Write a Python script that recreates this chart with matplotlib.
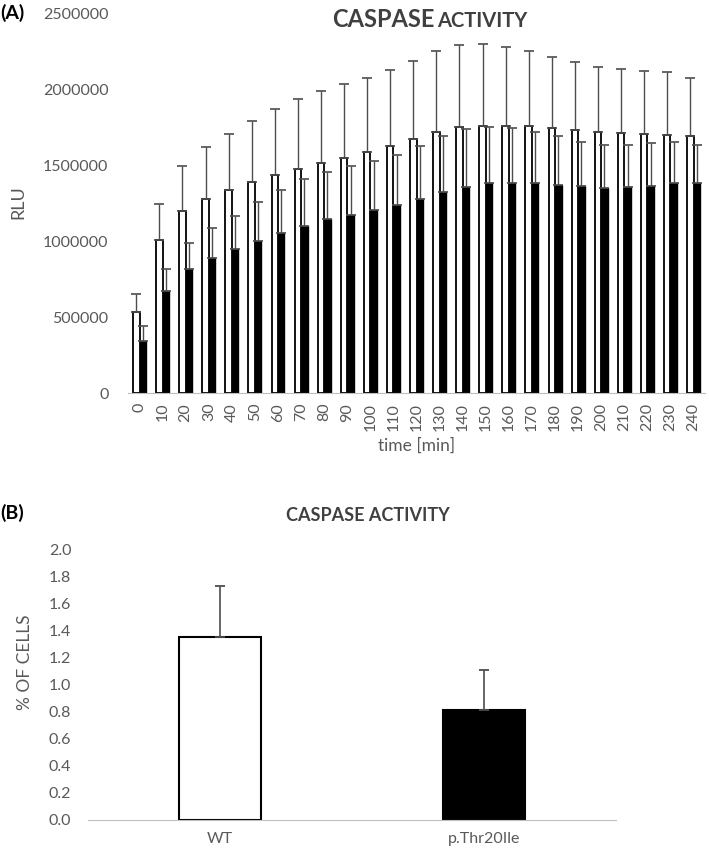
import numpy as np
import matplotlib
matplotlib.use("Agg")
import matplotlib.pyplot as plt
from matplotlib.ticker import FormatStrFormatter

plt.rcParams['font.family'] = ['Lato', 'DejaVu Sans']

# panel A: caspase activity over time (RLU)
times = list(range(0, 250, 10))
wt_mean = [533e3, 1007e3, 1197e3, 1278e3, 1338e3, 1388e3, 1436e3, 1474e3, 1511e3,
           1548e3, 1588e3, 1627e3, 1673e3, 1715e3, 1748e3, 1759e3, 1759e3, 1754e3,
           1746e3, 1732e3, 1719e3, 1711e3, 1702e3, 1697e3, 1689e3]
wt_sd = [118e3, 236e3, 298e3, 340e3, 368e3, 404e3, 435e3, 460e3, 478e3, 483e3,
         487e3, 498e3, 513e3, 535e3, 544e3, 539e3, 519e3, 496e3, 465e3, 446e3,
         428e3, 423e3, 418e3, 413e3, 383e3]
mut_mean = [344e3, 671e3, 816e3, 886e3, 945e3, 1000e3, 1055e3, 1101e3, 1143e3,
            1171e3, 1202e3, 1235e3, 1276e3, 1322e3, 1357e3, 1380e3, 1382e3, 1380e3,
            1371e3, 1360e3, 1351e3, 1353e3, 1364e3, 1380e3, 1382e3]
mut_sd = [97e3, 145e3, 171e3, 197e3, 222e3, 255e3, 281e3, 305e3, 311e3, 324e3,
          322e3, 333e3, 347e3, 367e3, 380e3, 372e3, 361e3, 339e3, 318e3, 293e3,
          281e3, 279e3, 281e3, 273e3, 252e3]

# panel B: % of cells
groups = ['WT', 'p.Thr20Ile']
pct_mean = [1.353, 0.81]
pct_sd = [0.375, 0.296]

txt = '#595959'
errc = '#4d4d4d'

fig = plt.figure(figsize=(7.09, 8.5), dpi=100)

# ---- (A)
ax1 = fig.add_axes([0.1805, 0.5376, 0.814, 0.4471])
x = np.arange(len(times))
w = 0.28
ax1.bar(x - w/2, wt_mean, w, color='white', edgecolor='black', linewidth=1.3)
ax1.bar(x + w/2, mut_mean, w, color='black', edgecolor='black', linewidth=1.0)
ax1.errorbar(x - w/2, wt_mean, yerr=[np.zeros(len(x)), wt_sd], fmt='none',
             ecolor=errc, elinewidth=1, capsize=3.5, capthick=1.2)
ax1.errorbar(x + w/2, mut_mean, yerr=[np.zeros(len(x)), mut_sd], fmt='none',
             ecolor=errc, elinewidth=1, capsize=3.5, capthick=1.2)
ax1.set_xlim(-0.5, len(x) - 0.5)
ax1.set_ylim(0, 2500000)
ax1.set_yticks(np.arange(0, 2500001, 500000))
ax1.yaxis.set_major_formatter(FormatStrFormatter('%d'))
ax1.set_xticks(x)
ax1.set_xticklabels([str(t) for t in times], rotation=90)
ax1.tick_params(length=0, labelsize=11.5, colors=txt)
ax1.tick_params(axis='y', pad=14)
ax1.tick_params(axis='x', pad=7)
for s in ['top', 'right', 'left']:
    ax1.spines[s].set_visible(False)
ax1.spines['bottom'].set_color('#bfbfbf')
ax1.set_xlabel('time [min]', fontsize=12.5, color=txt, labelpad=5)
fig.text(18/709, 1 - 202/850, 'RLU', rotation=90, fontsize=13, color=txt,
         ha='center', va='center')

fig.text(332/709, 1 - 27/850, 'CASPASE', fontsize=17, fontweight='bold',
         color='#404040', ha='left', va='baseline')
fig.text(527/709, 1 - 27/850, 'ACTIVITY', fontsize=14.5, fontweight='bold',
         color='#404040', ha='right', va='baseline')
fig.text(0.0, 1 - 13/850, '(A)', fontsize=14, fontweight='bold', color='black',
         ha='left', va='center')

# ---- (B)
ax2 = fig.add_axes([0.1241, 0.0353, 0.7447, 0.3188])
xb = np.arange(len(groups))
wb = 0.31
ax2.bar(xb, pct_mean, wb, color=['white', 'black'], edgecolor='black', linewidth=1.5)
ax2.errorbar(xb, pct_mean, yerr=[np.zeros(len(xb)), pct_sd], fmt='none',
             ecolor=errc, elinewidth=1.2, capsize=3.5, capthick=1.3)
ax2.set_xlim(-0.5, 1.5)
ax2.set_ylim(0, 2.0)
ax2.set_yticks(np.arange(0, 2.01, 0.2))
ax2.yaxis.set_major_formatter(FormatStrFormatter('%.1f'))
ax2.set_xticks(xb)
ax2.set_xticklabels(groups)
ax2.tick_params(length=0, labelsize=11.5, colors=txt)
ax2.tick_params(axis='y', pad=12)
ax2.tick_params(axis='x', pad=9)
for s in ['top', 'right', 'left']:
    ax2.spines[s].set_visible(False)
ax2.spines['bottom'].set_color('#bfbfbf')
fig.text(25/709, 1 - 662/850, '% OF CELLS', rotation=90, fontsize=12.5, color=txt,
         ha='center', va='center')
fig.text(368/709, 1 - 521/850, 'CASPASE ACTIVITY', fontsize=13, fontweight='bold',
         color='#404040', ha='center', va='baseline')
fig.text(0.0, 1 - 513/850, '(B)', fontsize=14, fontweight='bold', color='black',
         ha='left', va='center')

fig.savefig('out.png', dpi=100)
